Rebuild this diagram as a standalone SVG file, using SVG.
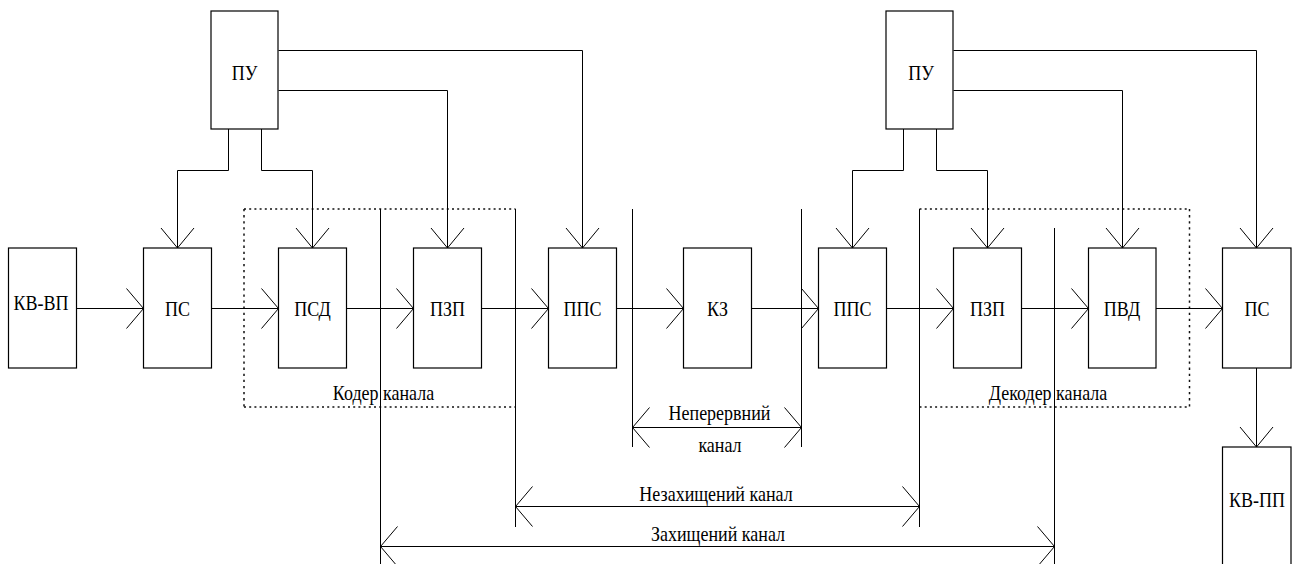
<svg xmlns="http://www.w3.org/2000/svg" width="1301" height="564" viewBox="0 0 1301 564">
<style>
  .box{fill:#fff;stroke:#000;stroke-width:1.2}
  .ln{fill:none;stroke:#000;stroke-width:1}
  .doth{fill:none;stroke:#111;stroke-width:1.5;stroke-dasharray:2 3.2}
  .dotv{fill:none;stroke:#111;stroke-width:1.5;stroke-dasharray:2.3 3.8}
  .t{font-family:"Liberation Serif","Times New Roman",serif;font-size:18px;fill:#000;text-anchor:middle}
</style>
<defs>
  <marker id="ah" markerUnits="userSpaceOnUse" markerWidth="44" markerHeight="44" viewBox="-22 -22 44 44" refX="0" refY="0" orient="auto" overflow="visible">
    <path d="M-17,-20 L0,0 L-17,20" fill="none" stroke="#000" stroke-width="1"/>
  </marker>
  <marker id="ah2" markerUnits="userSpaceOnUse" markerWidth="44" markerHeight="44" viewBox="-22 -22 44 44" refX="0" refY="0" orient="auto-start-reverse" overflow="visible">
    <path d="M-17,-20 L0,0 L-17,20" fill="none" stroke="#000" stroke-width="1"/>
  </marker>
  <marker id="av" markerUnits="userSpaceOnUse" markerWidth="44" markerHeight="44" viewBox="-22 -22 44 44" refX="0" refY="0" orient="auto" overflow="visible">
    <path d="M-20,-16.5 L0,0 L-20,16.5" fill="none" stroke="#000" stroke-width="1"/>
  </marker>
</defs>
<rect width="1301" height="564" fill="#fff"/>

<g id="coder-frame">
  <path class="doth" d="M244,209 H515.5 M244,407 H515.5"/>
  <path class="dotv" d="M244,209 V407"/>
  <text class="t" transform="translate(383.5,399.5) scale(1,1.18)">Кодер канала</text>
</g>
<g id="decoder-frame">
  <path class="doth" d="M919.5,209 H1189.5 M919.5,407 H1189.5"/>
  <path class="dotv" d="M1189.5,209 V407"/>
  <text class="t" transform="translate(1048,400) scale(1,1.18)">Декодер канала</text>
</g>

<g id="connectors">
  <path class="ln" marker-end="url(#ah)" d="M76.5,308.5 H143.5"/>
  <path class="ln" marker-end="url(#ah)" d="M211.5,308.5 H278.5"/>
  <path class="ln" marker-end="url(#ah)" d="M346.5,308.5 H413.5"/>
  <path class="ln" marker-end="url(#ah)" d="M481.5,308.5 H548.5"/>
  <path class="ln" marker-end="url(#ah)" d="M616.5,308.5 H683.5"/>
  <path class="ln" marker-end="url(#ah)" d="M751.5,308.5 H818.5"/>
  <path class="ln" marker-end="url(#ah)" d="M886.5,308.5 H953.5"/>
  <path class="ln" marker-end="url(#ah)" d="M1021.5,308.5 H1088.5"/>
  <path class="ln" marker-end="url(#ah)" d="M1156,308.5 H1222.5"/>

  <path class="ln" marker-end="url(#av)" d="M278.5,50.5 H582.5 V248"/>
  <path class="ln" marker-end="url(#av)" d="M278.5,90.5 H447.5 V248"/>
  <path class="ln" marker-end="url(#av)" d="M228.5,129 V170.5 H177.5 V248"/>
  <path class="ln" marker-end="url(#av)" d="M261.5,129 V170.5 H312.5 V248"/>
  <path class="ln" marker-end="url(#av)" d="M953.5,50.5 H1256.5 V248"/>
  <path class="ln" marker-end="url(#av)" d="M953.5,90.5 H1122.5 V248"/>
  <path class="ln" marker-end="url(#av)" d="M903.5,129 V170.5 H852.5 V248"/>
  <path class="ln" marker-end="url(#av)" d="M936.5,129 V170.5 H987.5 V248"/>
  <path class="ln" marker-end="url(#av)" d="M1256.5,368 V447"/>

  <path class="ln" d="M380.5,209 V564"/>
  <path class="ln" d="M515.5,209 V527"/>
  <path class="ln" d="M632.5,209 V447"/>
  <path class="ln" d="M801.5,209 V447"/>
  <path class="ln" d="M919.5,209 V527"/>
  <path class="ln" d="M1054.5,228 V564"/>

  <path class="ln" marker-start="url(#ah2)" marker-end="url(#ah2)" d="M632.5,427.5 H801.5"/>
  <path class="ln" marker-start="url(#ah2)" marker-end="url(#ah2)" d="M515.5,506.5 H919.5"/>
  <path class="ln" marker-start="url(#ah2)" marker-end="url(#ah2)" d="M380.5,546.5 H1054.5"/>
</g>

<g id="ch-labels">
  <text class="t" transform="translate(719.5,420) scale(1,1.18)">Неперервний</text>
  <text class="t" transform="translate(720,451.5) scale(1,1.18)">канал</text>
  <text class="t" transform="translate(716,500.5) scale(1,1.18)">Незахищений канал</text>
  <text class="t" transform="translate(718,540.5) scale(1,1.18)">Захищений канал</text>
</g>

<g id="pu1"><rect class="box" x="211" y="11" width="67" height="118"/><text class="t" transform="translate(244.5,80) scale(1,1.18)">ПУ</text></g>
<g id="pu2"><rect class="box" x="886" y="11" width="67" height="118"/><text class="t" transform="translate(921,80) scale(1,1.18)">ПУ</text></g>

<g id="kv-vp"><rect class="box" x="8.5" y="248" width="68" height="120"/><text class="t" transform="translate(41,309.5) scale(1,1.18)">КВ-ВП</text></g>
<g id="ps1"><rect class="box" x="143.5" y="248" width="68" height="120"/><text class="t" transform="translate(177.5,316) scale(1,1.18)">ПС</text></g>
<g id="psd"><rect class="box" x="278.5" y="248" width="68" height="120"/><text class="t" transform="translate(312.5,316) scale(1,1.18)">ПСД</text></g>
<g id="pzp1"><rect class="box" x="413.5" y="248" width="68" height="120"/><text class="t" transform="translate(447.5,316) scale(1,1.18)">ПЗП</text></g>
<g id="pps1"><rect class="box" x="548.5" y="248" width="68" height="120"/><text class="t" transform="translate(582.5,316) scale(1,1.18)">ППС</text></g>
<g id="kz"><rect class="box" x="683.5" y="248" width="68" height="120"/><text class="t" transform="translate(717.5,316) scale(1,1.18)">КЗ</text></g>
<g id="pps2"><rect class="box" x="818.5" y="248" width="68" height="120"/><text class="t" transform="translate(852.5,316) scale(1,1.18)">ППС</text></g>
<g id="pzp2"><rect class="box" x="953.5" y="248" width="68" height="120"/><text class="t" transform="translate(987.5,316) scale(1,1.18)">ПЗП</text></g>
<g id="pvd"><rect class="box" x="1088.5" y="248" width="67.5" height="120"/><text class="t" transform="translate(1122,316) scale(1,1.18)">ПВД</text></g>
<g id="ps2"><rect class="box" x="1222.5" y="248" width="68.5" height="120"/><text class="t" transform="translate(1257,316) scale(1,1.18)">ПС</text></g>
<g id="kv-pp"><rect class="box" x="1222.5" y="447" width="68.5" height="130"/><text class="t" transform="translate(1257,507) scale(1,1.18)">КВ-ПП</text></g>
</svg>
